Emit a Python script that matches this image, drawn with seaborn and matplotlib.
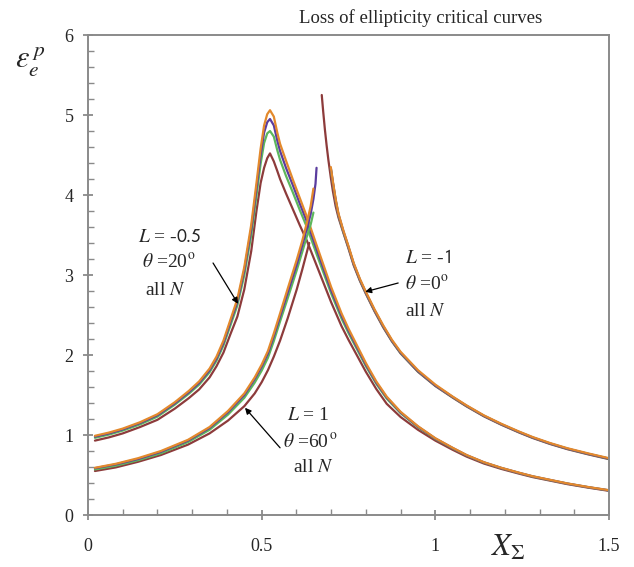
import numpy as np
import pandas as pd
import matplotlib
matplotlib.use("Agg")
import matplotlib.pyplot as plt
import seaborn as sns

# ---------------- data ----------------
# Group A: L = -0.5, theta = 20 deg  (rises to a peak, then descends)
g1_x = [0.02, 0.06, 0.10, 0.15, 0.20, 0.25, 0.29, 0.32, 0.35, 0.37, 0.39, 0.41, 0.43,
        0.45, 0.47, 0.485, 0.497, 0.507, 0.516, 0.524, 0.535, 0.545, 0.553, 0.57, 0.59,
        0.61, 0.63, 0.66, 0.70, 0.73, 0.75, 0.80, 0.83, 0.86, 0.90, 0.95, 1.00, 1.05,
        1.09, 1.14, 1.19, 1.24, 1.28, 1.33, 1.38, 1.44, 1.50]
g1_orange = [0.99, 1.03, 1.08, 1.16, 1.26, 1.41, 1.55, 1.67, 1.83, 1.98, 2.18, 2.44, 2.70,
             3.10, 3.63, 4.15, 4.58, 4.87, 5.01, 5.06, 4.98, 4.78, 4.64, 4.43, 4.19,
             3.96, 3.73, 3.35, 2.85, 2.52, 2.33, 1.90, 1.67, 1.48, 1.29, 1.11, 0.96, 0.84,
             0.75, 0.66, 0.59, 0.53, 0.485, 0.44, 0.395, 0.35, 0.31]
g1_purple = [0.98, 1.02, 1.07, 1.15, 1.248, 1.396, 1.534, 1.652, 1.81, 1.956, 2.152, 2.41, 2.665,
             3.06, 3.575, 4.08, 4.50, 4.78, 4.91, 4.95, 4.87, 4.68, 4.55, 4.34, 4.12,
             3.89, 3.67, 3.30, 2.81, 2.49, 2.305, 1.88, 1.655, 1.47, 1.282, 1.105, 0.956, 0.837,
             0.747, 0.658, 0.588, 0.528, 0.483, 0.438, 0.393, 0.348, 0.308]
g1_green = [0.965, 1.005, 1.055, 1.133, 1.23, 1.38, 1.515, 1.63, 1.785, 1.93, 2.12, 2.37, 2.62,
            3.00, 3.50, 3.99, 4.39, 4.65, 4.77, 4.80, 4.73, 4.56, 4.44, 4.24, 4.03,
            3.81, 3.60, 3.24, 2.77, 2.455, 2.275, 1.86, 1.64, 1.455, 1.273, 1.098, 0.951, 0.833,
            0.744, 0.655, 0.586, 0.526, 0.481, 0.436, 0.392, 0.347, 0.307]
g1_brown = [0.93, 0.97, 1.02, 1.10, 1.19, 1.33, 1.46, 1.57, 1.72, 1.86, 2.03, 2.26, 2.48,
            2.82, 3.30, 3.80, 4.15, 4.34, 4.46, 4.52, 4.42, 4.30, 4.20, 4.02, 3.82,
            3.62, 3.43, 3.10, 2.66, 2.36, 2.19, 1.79, 1.575, 1.39, 1.225, 1.065, 0.93, 0.815,
            0.73, 0.643, 0.576, 0.518, 0.474, 0.43, 0.386, 0.342, 0.302]

# Group B: L = 1, theta = 60 deg  (rising branch only)
g2_x = [0.02, 0.08, 0.144, 0.21, 0.288, 0.35, 0.403, 0.45, 0.48, 0.50, 0.518, 0.535,
        0.553, 0.575, 0.601, 0.617, 0.63, 0.641, 0.649]
g2_orange = [0.59, 0.64, 0.71, 0.80, 0.94, 1.10, 1.30, 1.52, 1.72, 1.88, 2.05, 2.27,
             2.52, 2.83, 3.19, 3.43, 3.65, 3.86, 4.08]
g2_green = [0.57, 0.617, 0.685, 0.772, 0.912, 1.065, 1.255, 1.465, 1.655, 1.805, 1.965, 2.175,
            2.42, 2.71, 3.06, 3.29, 3.48, 3.63, 3.78]
g2_x_purple = [0.02, 0.08, 0.144, 0.21, 0.288, 0.35, 0.403, 0.45, 0.48, 0.50, 0.518, 0.535,
               0.553, 0.575, 0.601, 0.617, 0.63, 0.641, 0.649, 0.655, 0.658]
g2_purple = [0.585, 0.633, 0.70, 0.79, 0.93, 1.088, 1.285, 1.50, 1.70, 1.855, 2.02, 2.235,
             2.48, 2.78, 3.13, 3.37, 3.58, 3.76, 3.95, 4.14, 4.34]
g2_x_brown = [0.02, 0.08, 0.144, 0.21, 0.288, 0.35, 0.403, 0.45, 0.48, 0.50, 0.518, 0.535,
              0.553, 0.575, 0.601, 0.617, 0.637]
g2_brown = [0.55, 0.595, 0.665, 0.75, 0.88, 1.02, 1.18, 1.36, 1.52, 1.66, 1.81, 1.98,
            2.18, 2.46, 2.82, 3.07, 3.40]

# Group C: L = -1, theta = 0 deg  (descending branch only)
g3_x = [0.699, 0.705, 0.713, 0.721, 0.735, 0.75, 0.765, 0.783, 0.80, 0.825, 0.85, 0.875,
        0.90, 0.95, 1.00, 1.05, 1.09, 1.14, 1.19, 1.24, 1.28, 1.33, 1.38, 1.44, 1.50]
g3_orange = [4.35, 4.17, 3.95, 3.77, 3.56, 3.36, 3.15, 2.95, 2.79, 2.57, 2.37, 2.19,
             2.04, 1.81, 1.63, 1.48, 1.37, 1.245, 1.14, 1.045, 0.975, 0.90, 0.835, 0.77, 0.71]
g3_purple = [4.34, 4.16, 3.94, 3.76, 3.55, 3.35, 3.14, 2.94, 2.78, 2.56, 2.36, 2.18,
             2.03, 1.80, 1.62, 1.475, 1.365, 1.24, 1.135, 1.04, 0.97, 0.895, 0.83, 0.765, 0.705]
g3_green = [4.33, 4.15, 3.93, 3.75, 3.54, 3.345, 3.135, 2.935, 2.775, 2.555, 2.355, 2.175,
            2.025, 1.795, 1.617, 1.472, 1.362, 1.238, 1.133, 1.038, 0.968, 0.893, 0.828, 0.763, 0.703]
g3_x_brown = [0.673, 0.677, 0.682, 0.687, 0.692, 0.699, 0.705, 0.713, 0.721, 0.735, 0.75,
              0.765, 0.783, 0.80, 0.825, 0.85, 0.875, 0.90, 0.95, 1.00, 1.05, 1.09, 1.14,
              1.19, 1.24, 1.28, 1.33, 1.38, 1.44, 1.50]
g3_brown = [5.25, 5.05, 4.82, 4.62, 4.44, 4.22, 4.05, 3.86, 3.72, 3.53, 3.33, 3.12,
            2.925, 2.765, 2.545, 2.345, 2.17, 2.02, 1.79, 1.612, 1.467, 1.357, 1.233,
            1.128, 1.033, 0.963, 0.888, 0.823, 0.758, 0.698]

x_ticks = [0, 0.5, 1, 1.5]
x_ticklabels = ["0", "0.5", "1", "1.5"]
y_ticks = [0, 1, 2, 3, 4, 5, 6]
y_ticklabels = ["0", "1", "2", "3", "4", "5", "6"]

title_text = "Loss of ellipticity critical curves"

# ---------------- styling ----------------
sns.set_style("white")
plt.rcParams["font.family"] = ["Liberation Serif", "DejaVu Serif"]
plt.rcParams["mathtext.fontset"] = "stix"

C_ORANGE = "#E3892C"
C_PURPLE = "#5A3C9E"
C_GREEN = "#5DB75C"
C_BROWN = "#8D3B3B"
AX_GREY = "#8a8a8a"

fig = plt.figure(figsize=(6.34, 5.67), dpi=100)
ax = fig.add_axes([88 / 634, 1 - 515 / 567, 521 / 634, 480 / 567])

series = [
    (g1_x, g1_brown, C_BROWN), (g1_x, g1_green, C_GREEN),
    (g1_x, g1_purple, C_PURPLE), (g1_x, g1_orange, C_ORANGE),
    (g2_x_brown, g2_brown, C_BROWN), (g2_x, g2_green, C_GREEN),
    (g2_x_purple, g2_purple, C_PURPLE), (g2_x, g2_orange, C_ORANGE),
    (g3_x_brown, g3_brown, C_BROWN), (g3_x, g3_green, C_GREEN),
    (g3_x, g3_purple, C_PURPLE), (g3_x, g3_orange, C_ORANGE),
]
for xs, ys, col in series:
    df = pd.DataFrame({"x": xs, "y": ys})
    sns.lineplot(data=df, x="x", y="y", ax=ax, color=col, linewidth=1.6,
                 sort=False, estimator=None)

ax.set_xlim(0, 1.5)
ax.set_ylim(0, 6)
ax.set_xlabel("")
ax.set_ylabel("")
ax.set_xticks(x_ticks)
ax.set_xticklabels(x_ticklabels)
ax.set_xticks(np.arange(0, 1.5001, 0.1), minor=True)
ax.set_yticks(y_ticks)
ax.set_yticklabels(y_ticklabels)
ax.set_yticks(np.arange(0, 6.001, 0.2), minor=True)

for sp in ax.spines.values():
    sp.set_visible(True)
    sp.set_color(AX_GREY)
    sp.set_linewidth(1.4)

ax.tick_params(axis="both", which="both", bottom=True, left=True, top=False, right=False)
ax.tick_params(axis="both", which="major", direction="inout", length=7, width=1.3,
               color=AX_GREY, labelsize=13)
ax.tick_params(axis="both", which="minor", direction="in", length=4, width=1.0,
               color=AX_GREY)
ax.tick_params(axis="x", which="major", pad=13)
ax.tick_params(axis="y", which="major", pad=7)

# title and axis labels
fig.text(421 / 634, 1 - 18 / 567, title_text, ha="center", va="center", fontsize=13.5)
fig.text(30 / 634, 1 - 62 / 567, r"$\varepsilon_e^{\,p}$", ha="center", va="center",
         fontsize=22)
fig.text(508 / 634, 1 - 548 / 567, r"$X_{\Sigma}$", ha="center", va="center", fontsize=22)

# annotations
fs = 14
arrow_kw = dict(arrowstyle="-|>", color="black", lw=0.9, mutation_scale=9,
                shrinkA=0, shrinkB=0)

ax.text(0.236, 3.475, r"$L$ = -$\mathsf{0.5}$", ha="center", va="center", fontsize=fs)
ax.text(0.232, 3.15, r"$\theta$ =20$^{\rm o}$", ha="center", va="center", fontsize=fs)
ax.text(0.222, 2.81, r"all $N$", ha="center", va="center", fontsize=fs)
ax.annotate("", xy=(0.432, 2.64), xytext=(0.360, 3.15), arrowprops=arrow_kw)

ax.text(0.913, 3.21, r"$L$ = -$\mathsf{1}$", ha="left", va="center", fontsize=fs)
ax.text(0.913, 2.875, r"$\theta$ =0$^{\rm o}$", ha="left", va="center", fontsize=fs)
ax.text(0.913, 2.54, r"all $N$", ha="left", va="center", fontsize=fs)
ax.annotate("", xy=(0.798, 2.79), xytext=(0.893, 2.90), arrowprops=arrow_kw)

ax.text(0.633, 1.25, r"$L$ = 1", ha="center", va="center", fontsize=fs)
ax.text(0.640, 0.91, r"$\theta$ =60$^{\,\rm o}$", ha="center", va="center", fontsize=fs)
ax.text(0.650, 0.59, r"all $N$", ha="center", va="center", fontsize=fs)
ax.annotate("", xy=(0.452, 1.34), xytext=(0.553, 0.84), arrowprops=arrow_kw)

fig.savefig("out.png", dpi=100)
